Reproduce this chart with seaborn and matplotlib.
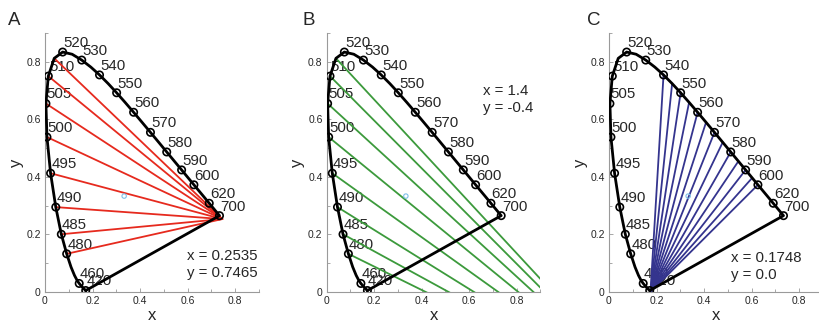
import numpy as np
import pandas as pd
import seaborn as sns
import matplotlib.pyplot as plt
from matplotlib.ticker import MultipleLocator

sns.set_style("white")
plt.rcParams['font.family'] = ['Liberation Sans', 'DejaVu Sans']

# CIE 1931 spectral locus (chromaticity x, y)
wavelengths = [420, 430, 440, 450, 460, 465, 470, 475, 480, 485, 490, 495, 500,
               505, 510, 515, 520, 525, 530, 535, 540, 545, 550, 555, 560, 565,
               570, 575, 580, 585, 590, 595, 600, 605, 610, 615, 620, 700]
locus_x = [0.1714, 0.1689, 0.1644, 0.1566, 0.1440, 0.1355, 0.1241, 0.1096, 0.0913,
           0.0687, 0.0454, 0.0235, 0.0082, 0.0039, 0.0139, 0.0389, 0.0743, 0.1142,
           0.1547, 0.1929, 0.2296, 0.2658, 0.3016, 0.3373, 0.3731, 0.4087, 0.4441,
           0.4788, 0.5125, 0.5448, 0.5752, 0.6029, 0.6270, 0.6482, 0.6658, 0.6801,
           0.6915, 0.7347]
locus_y = [0.0051, 0.0069, 0.0109, 0.0177, 0.0297, 0.0399, 0.0578, 0.0868, 0.1327,
           0.2007, 0.2950, 0.4127, 0.5384, 0.6548, 0.7502, 0.8120, 0.8338, 0.8262,
           0.8059, 0.7816, 0.7543, 0.7243, 0.6923, 0.6589, 0.6245, 0.5896, 0.5547,
           0.5202, 0.4866, 0.4544, 0.4242, 0.3965, 0.3725, 0.3514, 0.3340, 0.3197,
           0.3083, 0.2653]
labeled_wl = [420, 460, 480, 485, 490, 495, 500, 505, 510, 520, 530, 540, 550,
              560, 570, 580, 590, 600, 620, 700]

# confusion lines
protan_point = (0.7465, 0.2535)
deutan_point = (1.4, -0.4)
tritan_point = (0.1748, 0.0)
red_green_wl = [480, 485, 490, 495, 500, 505, 510, 515]
tritan_wl = [540, 545, 550, 555, 560, 565, 570, 575, 580, 585, 590, 595, 600]

white_point = (0.3333, 0.3333)
panel_letters = ["A", "B", "C"]
panel_texts = [["x = 0.2535", "y = 0.7465"], ["x = 1.4", "y = -0.4"], ["x = 0.1748", "y = 0.0"]]
text_pos = [(0.598, 0.111, 0.053), (0.659, 0.683, 0.627), (0.514, 0.103, 0.045)]
line_colors = ["#e62a1e", "#3c9a3c", "#34348e"]
tick_vals = [0, 0.2, 0.4, 0.6, 0.8]
tick_labels = ["0", "0.2", "0.4", "0.6", "0.8"]

locus = pd.DataFrame({"wl": wavelengths, "x": locus_x, "y": locus_y})
closed = pd.concat([locus, locus.iloc[[0]]], ignore_index=True)
marks = locus[locus["wl"].isin(labeled_wl)]


def fan(wls, end):
    rows = []
    for w in wls:
        r = locus[locus["wl"] == w].iloc[0]
        rows.append({"line": w, "x": r["x"], "y": r["y"]})
        rows.append({"line": w, "x": end[0], "y": end[1]})
    return pd.DataFrame(rows)


fans = [fan(red_green_wl, protan_point), fan(red_green_wl, deutan_point),
        fan(tritan_wl, tritan_point)]

fig = plt.figure(figsize=(8.19, 3.2), dpi=100)
lefts = [45, 326.7, 609]
letter_x = [8, 303, 587]

for i in range(3):
    ax = fig.add_axes([lefts[i] / 819, 28 / 320, 213.75 / 819, 259 / 320])
    sns.lineplot(data=fans[i], x="x", y="y", units="line", estimator=None, sort=False,
                 color=line_colors[i], lw=1.3, ax=ax, zorder=3)
    sns.lineplot(data=closed, x="x", y="y", estimator=None, sort=False,
                 color="black", lw=2.0, ax=ax, zorder=4)
    sns.scatterplot(data=marks, x="x", y="y", marker="o", s=28, fc="none",
                    ec="black", linewidth=1.2, ax=ax, zorder=5)
    ax.scatter([white_point[0]], [white_point[1]], s=10, fc="none",
               ec="#7ec0ea", linewidth=0.8, zorder=6)
    for _, r in marks.iterrows():
        ax.annotate(str(int(r["wl"])), (r["x"], r["y"]), xytext=(0.5, 1.5),
                    textcoords="offset points", ha="left", va="bottom",
                    fontsize=10.8, zorder=2)
    tx, ty1, ty2 = text_pos[i]
    ax.text(tx, ty1, panel_texts[i][0], fontsize=10.8, va="baseline")
    ax.text(tx, ty2, panel_texts[i][1], fontsize=10.8, va="baseline")

    ax.set_xlim(0, 0.9)
    ax.set_ylim(0, 0.9)
    ax.set_xticks(tick_vals)
    ax.set_xticklabels(tick_labels)
    ax.set_yticks(tick_vals)
    ax.set_yticklabels(tick_labels)
    ax.xaxis.set_minor_locator(MultipleLocator(0.1))
    ax.yaxis.set_minor_locator(MultipleLocator(0.1))
    ax.tick_params(which="major", direction="in", length=3, width=0.6, color="#999999",
                   labelsize=7.5, pad=3, left=True, bottom=True)
    ax.tick_params(which="minor", direction="in", length=2, width=0.6, color="#999999",
                   left=True, bottom=True)
    for s in ["top", "right"]:
        ax.spines[s].set_visible(False)
    for s in ["left", "bottom"]:
        ax.spines[s].set_color("#9a9a9a")
        ax.spines[s].set_linewidth(0.8)
    ax.set_xlabel("x", fontsize=12)
    ax.set_ylabel("y", fontsize=12)
    ax.xaxis.set_label_coords(0.5, -0.06)
    ax.yaxis.set_label_coords(-0.1, 0.5)
    fig.text(letter_x[i] / 819, 1 - 25 / 320, panel_letters[i], fontsize=13.5, va="baseline")

fig.savefig("out.png", dpi=100)
plt.close(fig)
